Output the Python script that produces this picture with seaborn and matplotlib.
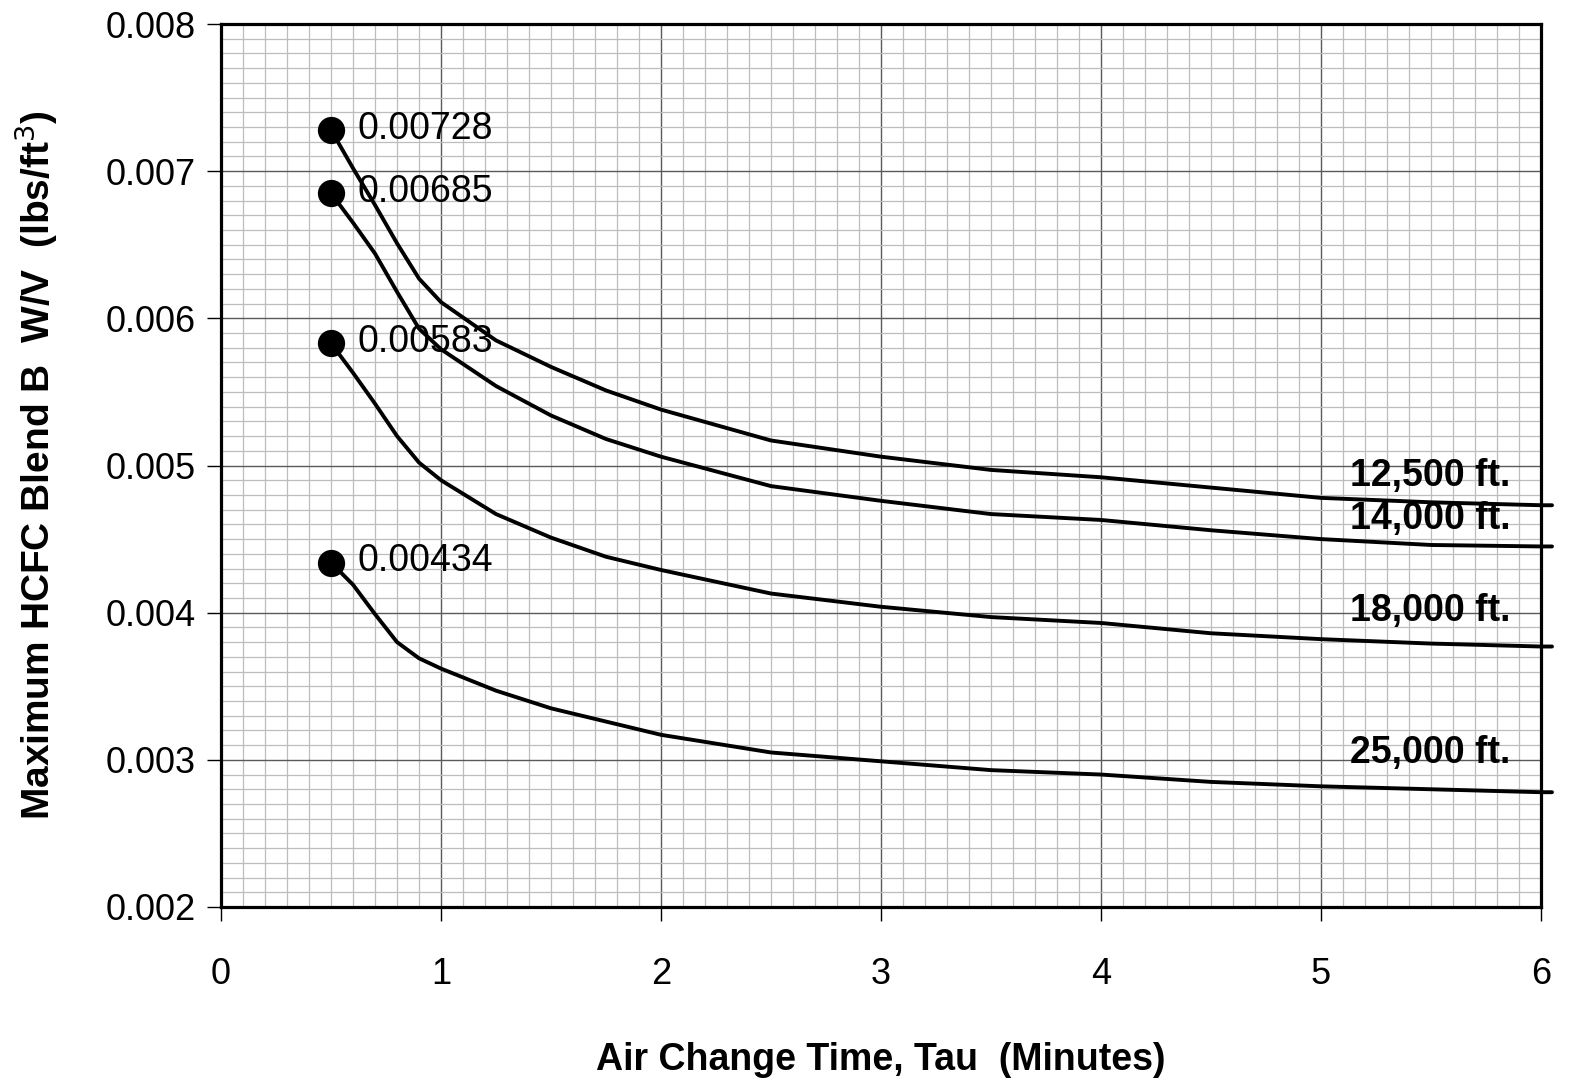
import pandas as pd
import numpy as np
import seaborn as sns
import matplotlib
matplotlib.use('Agg')
import matplotlib.pyplot as plt
from matplotlib.ticker import MultipleLocator

# curve data
tau = [0.5, 0.6, 0.7, 0.8, 0.9, 1.0, 1.25, 1.5, 1.75, 2.0, 2.5, 3.0, 3.5, 4.0, 4.5, 5.0, 5.5, 6.0, 6.05]
alt_12500 = [0.00728, 0.00702, 0.00677, 0.00651, 0.00627, 0.00611, 0.00585, 0.00567, 0.00551, 0.00538,
             0.00517, 0.00506, 0.00497, 0.00492, 0.00485, 0.00478, 0.00475, 0.00473, 0.00473]
alt_14000 = [0.00685, 0.00665, 0.00644, 0.00618, 0.00593, 0.00579, 0.00554, 0.00534, 0.00518, 0.00506,
             0.00486, 0.00476, 0.00467, 0.00463, 0.00456, 0.00450, 0.00446, 0.00445, 0.00445]
alt_18000 = [0.00583, 0.00563, 0.00542, 0.00520, 0.00502, 0.00490, 0.00467, 0.00451, 0.00438, 0.00429,
             0.00413, 0.00404, 0.00397, 0.00393, 0.00386, 0.00382, 0.00379, 0.00377, 0.00377]
alt_25000 = [0.00434, 0.00419, 0.00399, 0.00380, 0.00369, 0.00362, 0.00347, 0.00335, 0.00326, 0.00317,
             0.00305, 0.00299, 0.00293, 0.00290, 0.00285, 0.00282, 0.00280, 0.00278, 0.00278]

altitudes = ['12,500 ft.', '14,000 ft.', '18,000 ft.', '25,000 ft.']
start_tau = [0.5, 0.5, 0.5, 0.5]
start_vals = [0.00728, 0.00685, 0.00583, 0.00434]

rows = []
for name, vals in zip(altitudes, [alt_12500, alt_14000, alt_18000, alt_25000]):
    for t, v in zip(tau, vals):
        rows.append({'tau': t, 'wv': v, 'alt': name})
df = pd.DataFrame(rows)
starts = pd.DataFrame({'tau': start_tau, 'wv': start_vals, 'alt': altitudes})

sns.set_style('white')
plt.rcParams['font.family'] = ['Liberation Sans', 'DejaVu Sans']
plt.rcParams['text.color'] = 'black'
plt.rcParams['axes.labelcolor'] = 'black'
plt.rcParams['xtick.color'] = 'black'
plt.rcParams['ytick.color'] = 'black'

fig = plt.figure(figsize=(15.81, 10.87), dpi=100)
ax = fig.add_axes([0.1398, 0.1656, 0.8349, 0.8123])

sns.lineplot(data=df, x='tau', y='wv', hue='alt', palette=['black'] * 4,
             estimator=None, sort=False, legend=False, linewidth=2.8, ax=ax)
for ln in ax.get_lines():
    ln.set_clip_on(False)
    ln.set_solid_joinstyle('round')
sns.scatterplot(data=starts, x='tau', y='wv', color='black', s=330, edgecolor='black',
                legend=False, ax=ax, zorder=5)

# value labels at the start points
for t, v in zip(start_tau, start_vals):
    ax.annotate(f'{v:.5f}', xy=(t, v), xytext=(19, 1), textcoords='offset points',
                fontsize=27, va='center', ha='left')

# altitude labels at the right
label_y = [0.00493, 0.004635, 0.004010, 0.003045]
for name, y in zip(altitudes, label_y):
    ax.text(5.86, y, name, fontsize=27, fontweight='bold', ha='right', va='center')

ax.set_xlim(0, 6)
ax.set_ylim(0.002, 0.008)
ax.xaxis.set_major_locator(MultipleLocator(1))
ax.xaxis.set_minor_locator(MultipleLocator(0.1))
ax.yaxis.set_major_locator(MultipleLocator(0.001))
ax.yaxis.set_minor_locator(MultipleLocator(0.0001))
ax.set_yticklabels([f'{v:.3f}' for v in ax.get_yticks()])
ax.grid(which='minor', color='#bdbdbd', linewidth=0.9)
ax.grid(which='major', color='#5a5a5a', linewidth=1.0)
ax.set_axisbelow(True)

for sp in ax.spines.values():
    sp.set_color('black')
    sp.set_linewidth(2.3)

ax.tick_params(which='major', direction='out', length=10, width=1, color='black',
               labelsize=26, pad=8, left=True, bottom=True)
ax.tick_params(which='minor', length=0)
ax.tick_params(axis='x', pad=26)

ax.set_xlabel('Air Change Time, Tau  (Minutes)', fontsize=27, fontweight='bold', labelpad=36)
ax.set_ylabel('Maximum HCFC Blend B  W/V  (lbs/ft$^{3}$)', fontsize=28, fontweight='bold', labelpad=33)

fig.savefig('out.png', dpi=100)
